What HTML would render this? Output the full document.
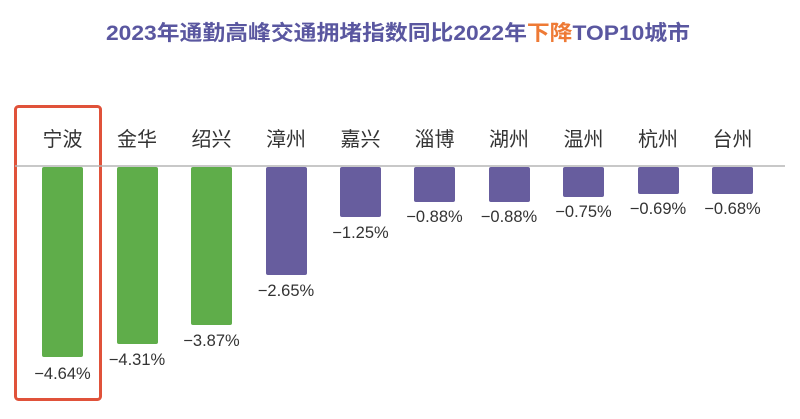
<!DOCTYPE html>
<html><head><meta charset="utf-8"><style>
html,body{margin:0;padding:0;background:#fff;}
svg{display:block;font-family:"Liberation Sans","Noto Sans CJK SC",sans-serif;}
</style></head><body>
<svg width="800" height="419" viewBox="0 0 800 419" xmlns="http://www.w3.org/2000/svg">
<text x="106" y="40" font-size="21" font-weight="bold" fill="#5a57a0" textLength="584" lengthAdjust="spacingAndGlyphs">2023年通勤高峰交通拥堵指数同比2022年<tspan fill="#ee7a35">下降</tspan>TOP10城市</text>
<rect x="15.5" y="106.5" width="85" height="293" rx="3" fill="none" stroke="#e0523a" stroke-width="3"/>
<line x1="15" y1="166" x2="785" y2="166" stroke="#b5b5b5" stroke-width="1.5"/>
<g font-size="20" fill="#333" text-anchor="middle">
<text x="62.5" y="146">宁波</text><text x="137" y="146">金华</text><text x="211.5" y="146">绍兴</text><text x="286" y="146">漳州</text><text x="360.5" y="146">嘉兴</text><text x="434.5" y="146">淄博</text><text x="509" y="146">湖州</text><text x="583.5" y="146">温州</text><text x="658" y="146">杭州</text><text x="732.5" y="146">台州</text>
</g>
<g fill="#5fad4a">
<rect x="42" y="167" width="41" height="190" rx="2"/>
<rect x="117" y="167" width="41" height="177" rx="2"/>
<rect x="191" y="167" width="41" height="158" rx="2"/>
</g>
<g fill="#675d9e">
<rect x="266" y="167" width="41" height="108" rx="2"/>
<rect x="340" y="167" width="41" height="50" rx="2"/>
<rect x="414" y="167" width="41" height="35" rx="2"/>
<rect x="489" y="167" width="41" height="35" rx="2"/>
<rect x="563" y="167" width="41" height="30" rx="2"/>
<rect x="638" y="167" width="41" height="27" rx="2"/>
<rect x="712" y="167" width="41" height="27" rx="2"/>
</g>
<g font-size="16.5" fill="#333" text-anchor="middle">
<text x="62.5" y="379">−4.64%</text>
<text x="137" y="365">−4.31%</text>
<text x="211.5" y="346">−3.87%</text>
<text x="286" y="296">−2.65%</text>
<text x="360.5" y="238">−1.25%</text>
<text x="434.5" y="222">−0.88%</text>
<text x="509" y="222">−0.88%</text>
<text x="583.5" y="217">−0.75%</text>
<text x="658" y="214">−0.69%</text>
<text x="732.5" y="214">−0.68%</text>
</g>
</svg>
</body></html>
